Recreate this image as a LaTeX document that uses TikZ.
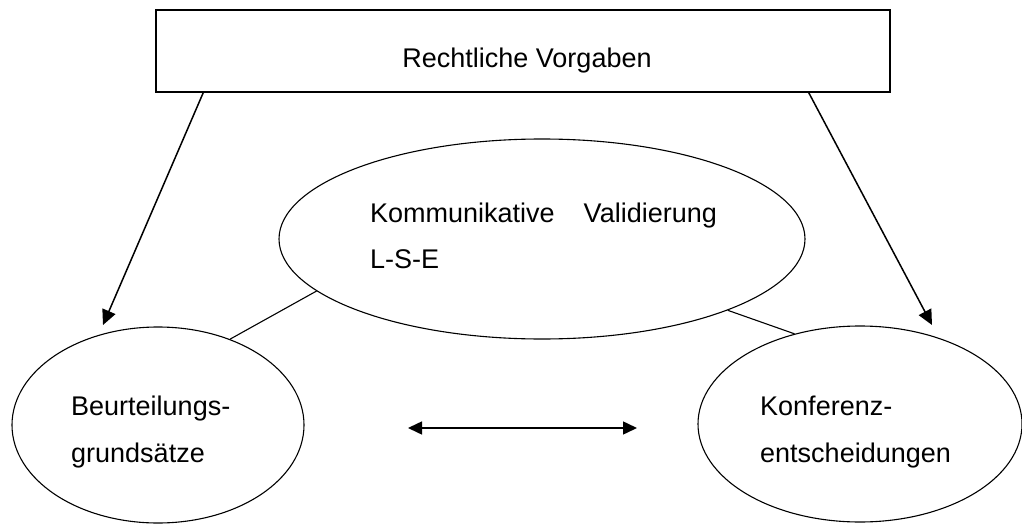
\documentclass[tikz,border=0pt]{standalone}
\usepackage{fontspec}
\setmainfont{Liberation Sans}
\usetikzlibrary{arrows.meta,shapes.geometric,calc}
\begin{document}
\begin{tikzpicture}[x=1pt,y=-1pt,
  every node/.style={font=\fontsize{27}{47}\selectfont},
  frame/.style={draw, line width=1.6pt, minimum width=734pt, minimum height=82pt, inner sep=0pt},
  oval/.style={draw, ellipse, line width=1.1pt, inner sep=0pt},
  txt/.style={inner sep=0pt, anchor=base west},
  arr/.style={line width=1.5pt, -{Triangle[length=15pt,width=14pt]}},
  dblarr/.style={line width=1.5pt, {Triangle[length=14pt,width=13pt]}-{Triangle[length=14pt,width=13pt]}},
  link/.style={line width=1.1pt}]
\useasboundingbox (0,0) rectangle (1022,524);

% top box with the legal framework
\node[frame] (box) at (523,51) {};
\node (title) at (527,61) {Rechtliche Vorgaben};

% the three ellipses
\node[oval, minimum width=526pt, minimum height=200pt] (kv) at (542,239) {};
\node[oval, minimum width=292pt, minimum height=196pt] (bg) at (158,425) {};
\node[oval, minimum width=324pt, minimum height=196pt] (ke) at (860,424) {};

% their labels, one node per line, set flush left (offsets in picture units, y downwards)
\node[txt] (kv1) at ($(kv.center)+(-172,-17)$) {Kommunikative\hspace{29pt}Validierung};
\node[txt] (kv2) at ($(kv1.base west)+(0,46)$) {L-S-E};
\node[txt] (bg1) at ($(bg.center)+(-87,-10)$) {Beurteilungs-};
\node[txt] (bg2) at ($(bg1.base west)+(0,47)$) {grundsätze};
\node[txt] (ke1) at ($(ke.center)+(-100,-9)$) {Konferenz-};
\node[txt] (ke2) at ($(ke1.base west)+(0,47)$) {entscheidungen};

% arrows from the box down to the lower ellipses
\coordinate (lt) at (103,325);
\coordinate (rt) at (932,325);
\draw[arr] ($(box.south west)+(48,0)$) -- (lt);
\draw[arr] ($(box.south east)+(-82,0)$) -- (rt);

% plain links from the centre ellipse
\draw[link] (kv.193) -- (bg.50);
\draw[link] (kv.-21) -- (ke.126);

% double arrow between the lower ellipses
\coordinate (da) at (408,428);
\coordinate (db) at (637,428);
\draw[dblarr] (da) -- (db);
\end{tikzpicture}
\end{document}
